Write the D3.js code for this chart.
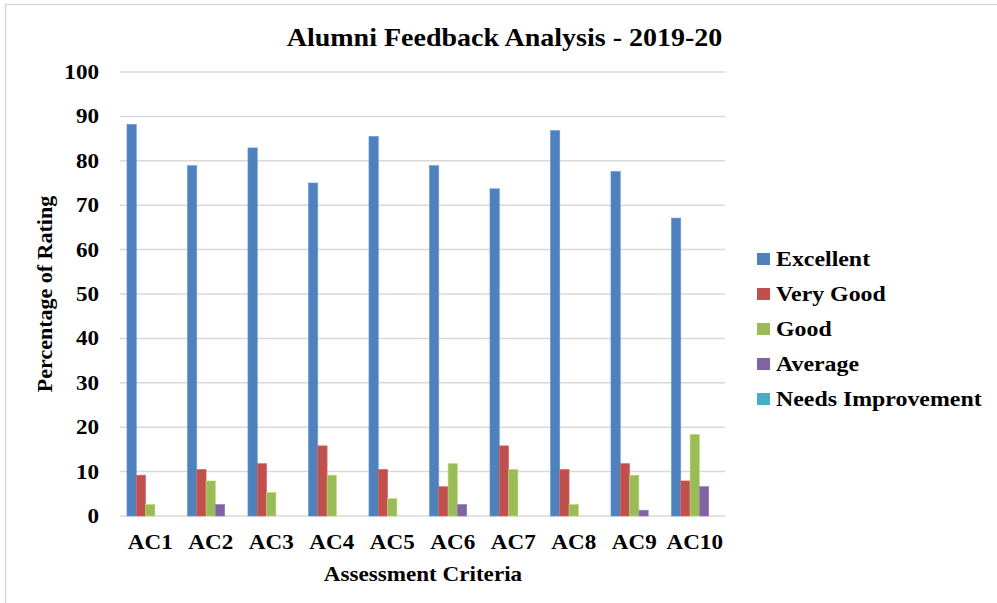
<!DOCTYPE html>
<html><head><meta charset="utf-8">
<script src="https://cdn.jsdelivr.net/npm/d3@7"></script>
<style>
html,body{margin:0;padding:0;background:#fff;}
text{font-family:"Liberation Serif","Times New Roman",serif;font-weight:bold;fill:#000;}
</style></head>
<body><svg id="c" width="997" height="603"></svg>
<script>
const categories = ["AC1","AC2","AC3","AC4","AC5","AC6","AC7","AC8","AC9","AC10"];
const seriesNames = ["Excellent","Very Good","Good","Average","Needs Improvement"];
const excellent = [88.2,78.9,82.9,75.0,85.5,78.9,73.7,86.8,77.6,67.1];
const veryGood  = [9.2,10.5,11.8,15.8,10.5,6.6,15.8,10.5,11.8,7.9];
const good      = [2.6,7.9,5.3,9.2,3.9,11.8,10.5,2.6,9.2,18.4];
const average   = [0,2.6,0,0,0,2.6,0,0,1.3,6.6];
const needsImprovement = [0,0,0,0,0,0,0,0,0,0];
const yTicks = [0,10,20,30,40,50,60,70,80,90,100];
const colors = ["#4F81BD","#C0504D","#9BBB59","#8064A2","#4BACC6"];
const titleText = "Alumni Feedback Analysis - 2019-20";
const xTitle = "Assessment Criteria";
const yTitle = "Percentage of Rating";

const seriesValues = [excellent, veryGood, good, average, needsImprovement];
const STRETCH = 1.1;
const svg = d3.select("#c");

function stretch(sel, k){
  k = k || STRETCH;
  sel.each(function(){
    const w = this.getComputedTextLength();
    d3.select(this).attr("textLength", w*k).attr("lengthAdjust","spacingAndGlyphs");
  });
  return sel;
}

// frame
svg.append("path").attr("d","M5.5,603 V4.5 H997").attr("fill","none").attr("stroke","#d9d9d9").attr("stroke-width",1.5);

const y = d3.scaleLinear().domain([0,100]).range([516,72]);
const x0 = d3.scaleBand().domain(categories).range([120,725]).padding(0);
const bw = x0.bandwidth();
const x1 = d3.scaleBand().domain(seriesNames).range([bw*0.115, bw*0.885]).padding(0);

// gridlines
svg.append("g").selectAll("line").data(yTicks).join("line")
  .attr("x1",120).attr("x2",725)
  .attr("y1",d=>y(d)).attr("y2",d=>y(d))
  .attr("stroke","#d9d9d9").attr("stroke-width",1.5);

// y tick labels
const yl = svg.append("g").selectAll("text").data(yTicks).join("text")
  .attr("x",99).attr("y",d=>y(d)+7)
  .attr("text-anchor","end").attr("font-size",21)
  .text(d=>d);
stretch(yl);

// bars
const data = [];
categories.forEach((c,i)=>seriesNames.forEach((s,j)=>data.push({c,s,j,v:seriesValues[j][i]})));
svg.append("g").selectAll("rect").data(data.filter(d=>d.v>0)).join("rect")
  .attr("x",d=>x0(d.c)+x1(d.s))
  .attr("width",x1.bandwidth())
  .attr("y",d=>y(d.v))
  .attr("height",d=>y(0)-y(d.v))
  .attr("fill",d=>colors[d.j])
  .attr("stroke",d=>d3.color(colors[d.j]).brighter(0.5))
  .attr("stroke-width",0.6);

// x labels
const xl = svg.append("g").selectAll("text").data(categories).join("text")
  .attr("x",d=>x0(d)+bw/2).attr("y",549)
  .attr("text-anchor","middle").attr("font-size",21)
  .text(d=>d);
stretch(xl);

// title
stretch(svg.append("text").attr("x",504.5).attr("y",46).attr("text-anchor","middle")
  .attr("font-size",25).text(titleText), 1.12);

// axis titles
stretch(svg.append("text").attr("x",423).attr("y",581).attr("text-anchor","middle")
  .attr("font-size",21).text(xTitle));
svg.append("text").attr("transform","translate(52,294) rotate(-90)")
  .attr("text-anchor","middle").attr("font-size",22).text(yTitle);

// legend
const lg = svg.append("g").selectAll("g").data(seriesNames).join("g")
  .attr("transform",(d,i)=>`translate(757,${259+i*35})`);
lg.append("rect").attr("x",0).attr("y",-6).attr("width",13).attr("height",12)
  .attr("fill",(d,i)=>colors[i]);
stretch(lg.append("text").attr("x",19).attr("y",7).attr("font-size",21.7).text(d=>d), 1.1);
</script></body></html>
